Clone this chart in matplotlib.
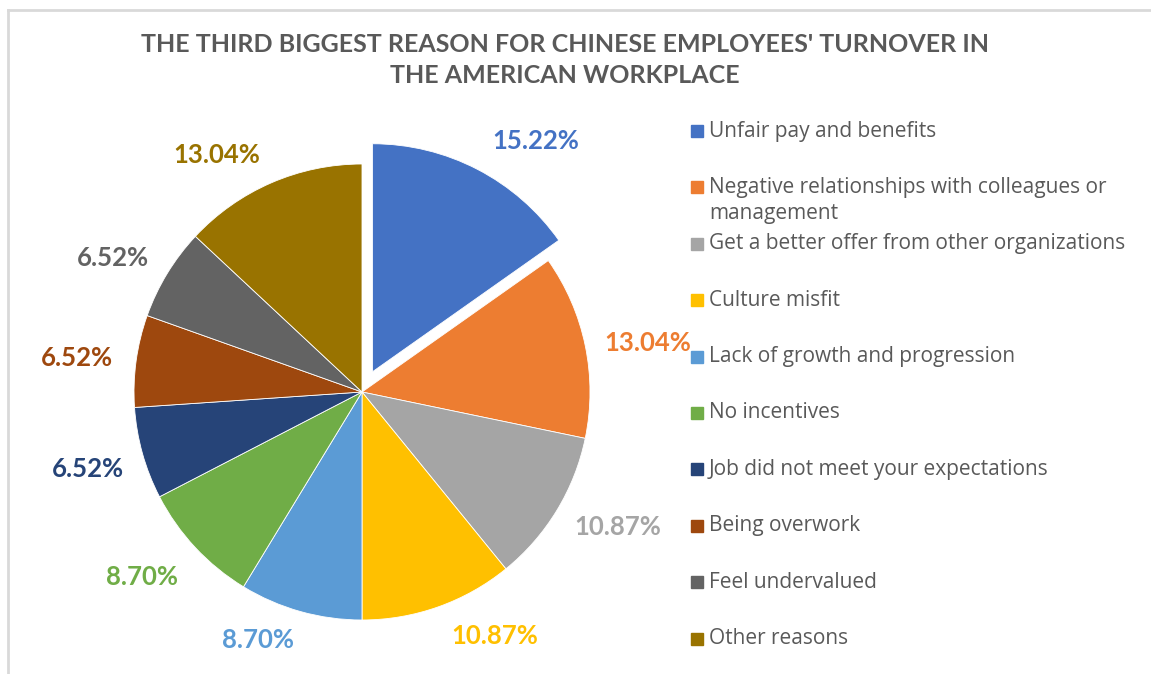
import numpy as np
import matplotlib.pyplot as plt
from matplotlib.lines import Line2D

# data
reasons = [
    "Unfair pay and benefits",
    "Negative relationships with colleagues or\nmanagement",
    "Get a better offer from other organizations",
    "Culture misfit",
    "Lack of growth and progression",
    "No incentives",
    "Job did not meet your expectations",
    "Being overwork",
    "Feel undervalued",
    "Other reasons",
]
shares = [15.22, 13.04, 10.87, 10.87, 8.70, 8.70, 6.52, 6.52, 6.52, 13.04]
colors = ["#4472C4", "#ED7D31", "#A5A5A5", "#FFC000", "#5B9BD5",
          "#70AD47", "#264478", "#9E480E", "#636363", "#997300"]

W, H = 1151, 674
R = 228  # pie radius in pixels
fig = plt.figure(figsize=(W / 100, H / 100), dpi=100)
fig.patch.set_facecolor("white")

# chart frame (light gray border, top and left visible)
fig.add_artist(Line2D([8 / W, 1], [1 - 10 / H, 1 - 10 / H], color="#d9d9d9", lw=2))
fig.add_artist(Line2D([8 / W, 8 / W], [0, 1 - 10 / H], color="#d9d9d9", lw=2))

fig.text(565 / W, 1 - 60 / H,
         "THE THIRD BIGGEST REASON FOR CHINESE EMPLOYEES' TURNOVER IN\nTHE AMERICAN WORKPLACE",
         ha="center", va="center", fontsize=18, fontweight="bold",
         color="#595959", family="Lato", linespacing=1.45)

# pie drawn in pixel-like data coords
ax = fig.add_axes([0, 0, 1, 1])
explode = [0.1 * R] + [0] * (len(shares) - 1)
wedges, texts, autotexts = ax.pie(
    shares, colors=colors, explode=explode, startangle=90, counterclock=False,
    center=(362, H - 392), radius=R, autopct="%.2f%%", pctdistance=1.25,
    wedgeprops=dict(linewidth=0.6, edgecolor="white"), frame=True)
ax.set_xlim(0, W)
ax.set_ylim(0, H)
ax.set_aspect("equal")
ax.axis("off")

# best-fit style label placement: small angular shift / distance per label
shift = [-8, -2, 3.5, 9, -7, -3, 0, 1, 3, 8]
dist = [1.24, 1.27, 1.27, 1.22, 1.18, 1.26, 1.25, 1.26, 1.24, 1.22]
for w, t, c, s, d in zip(wedges, autotexts, colors, shift, dist):
    th = np.deg2rad((w.theta1 + w.theta2) / 2 + s)
    cx, cy = w.center
    t.set_position((cx + d * R * np.cos(th), cy + d * R * np.sin(th)))
    t.set_color(c)
    t.set_fontsize(18.5)
    t.set_fontweight("bold")
    t.set_family("Lato")

# legend, one slot per category
line_h = 26
for i, (lab, c) in enumerate(zip(reasons, colors)):
    y = 131 + i * 56.4
    fig.patches.append(plt.Rectangle((691 / W, 1 - (y + 6) / H), 12 / W, 12 / H,
                                     transform=fig.transFigure, color=c, figure=fig))
    n = lab.count("\n")
    fig.text(709 / W, 1 - (y + n * line_h / 2) / H, lab, ha="left", va="center",
             fontsize=15, color="#595959", family="Open Sans",
             linespacing=1.27)

fig.savefig("out.png", dpi=100)
